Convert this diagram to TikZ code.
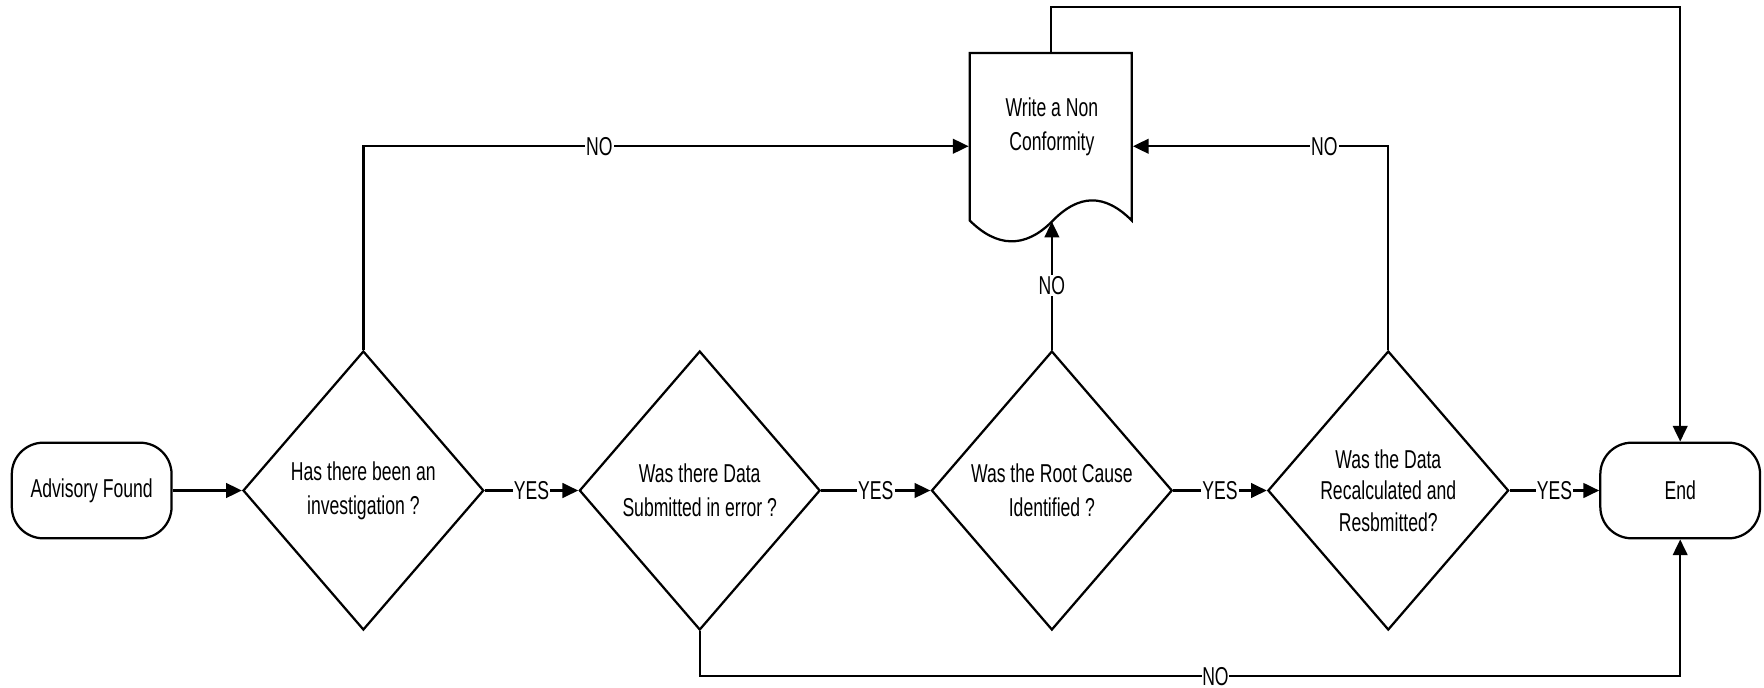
\documentclass[tikz,border=0pt]{standalone}
\usepackage{fontspec}
\setmainfont{Liberation Sans}[FakeStretch=0.68]
\usetikzlibrary{arrows.meta,shapes.geometric}
\begin{document}
\begin{tikzpicture}[x=1pt,y=-1pt, line width=2pt,
  every node/.style={font=\fontsize{23}{30}\selectfont},
  term/.style={draw, rounded corners=28pt, minimum width=142pt, minimum height=85pt, inner sep=0pt},
  dec/.style={draw, diamond, minimum width=214pt, minimum height=248pt, inner sep=0pt},
  txt/.style={align=center, inner sep=0pt},
  arr/.style={-{Triangle[length=14pt,width=13pt]}},
  lab/.style={fill=white, inner sep=1pt}]
\useasboundingbox (0,0) rectangle (1568,610.67);

\node[term] (adv) at (81.5,436) {Advisory Found};
\node[dec] (d1) at (323,436) {};
\node[txt] (t1) at (323,436) {Has there been an\\investigation ?};
\node[dec] (d2) at (622,436) {};
\node[txt] (t2) at (622,436) {Was there Data\\Submitted in error ?};
\node[dec] (d3) at (935,436) {};
\node[txt] (t3) at (935,436) {Was the Root Cause\\Identified ?};
\node[dec] (d4) at (1234,436) {};
\node[txt, font=\fontsize{23}{28}\selectfont] (t4) at (1234,436) {Was the Data\\Recalculated and\\Resbmitted?};
\node[term] (end) at (1493.5,436) {End};

% document shape
\node[minimum width=144pt, minimum height=166pt, inner sep=0pt] (doc) at (934,130) {};
\draw (862,196) -- (862,47) -- (1006,47) -- (1006,196)
  .. controls (982,172) and (959,172) .. (935,197)
  .. controls (911,221) and (886,220) .. (862,196) -- cycle;
\node[txt] (tdoc) at (935,113) {Write a Non\\Conformity};
\coordinate (docb) at (935,197);

\draw[arr] (adv) -- (d1);
\draw[arr] (d1) -- node[lab]{YES} (d2);
\draw[arr] (d2) -- node[lab]{YES} (d3);
\draw[arr] (d3) -- node[lab]{YES} (d4);
\draw[arr] (d4) -- node[lab]{YES} (end);

\draw[arr] (d1.north) |- node[lab,pos=0.695]{NO} (doc.west);
\draw[arr] (d4.north) |- node[lab,pos=0.625]{NO} (doc.east);
\draw[arr] (d3.north) -- node[lab]{NO} (docb);
\draw[arr] (doc.north) |- (end.north |- 0,6) -- (end.north);
\draw[arr] (d2.south) |- node[lab,pos=0.763,inner sep=0.5pt]{NO} (end.south |- 0,601) -- (end.south);
\end{tikzpicture}
\end{document}
